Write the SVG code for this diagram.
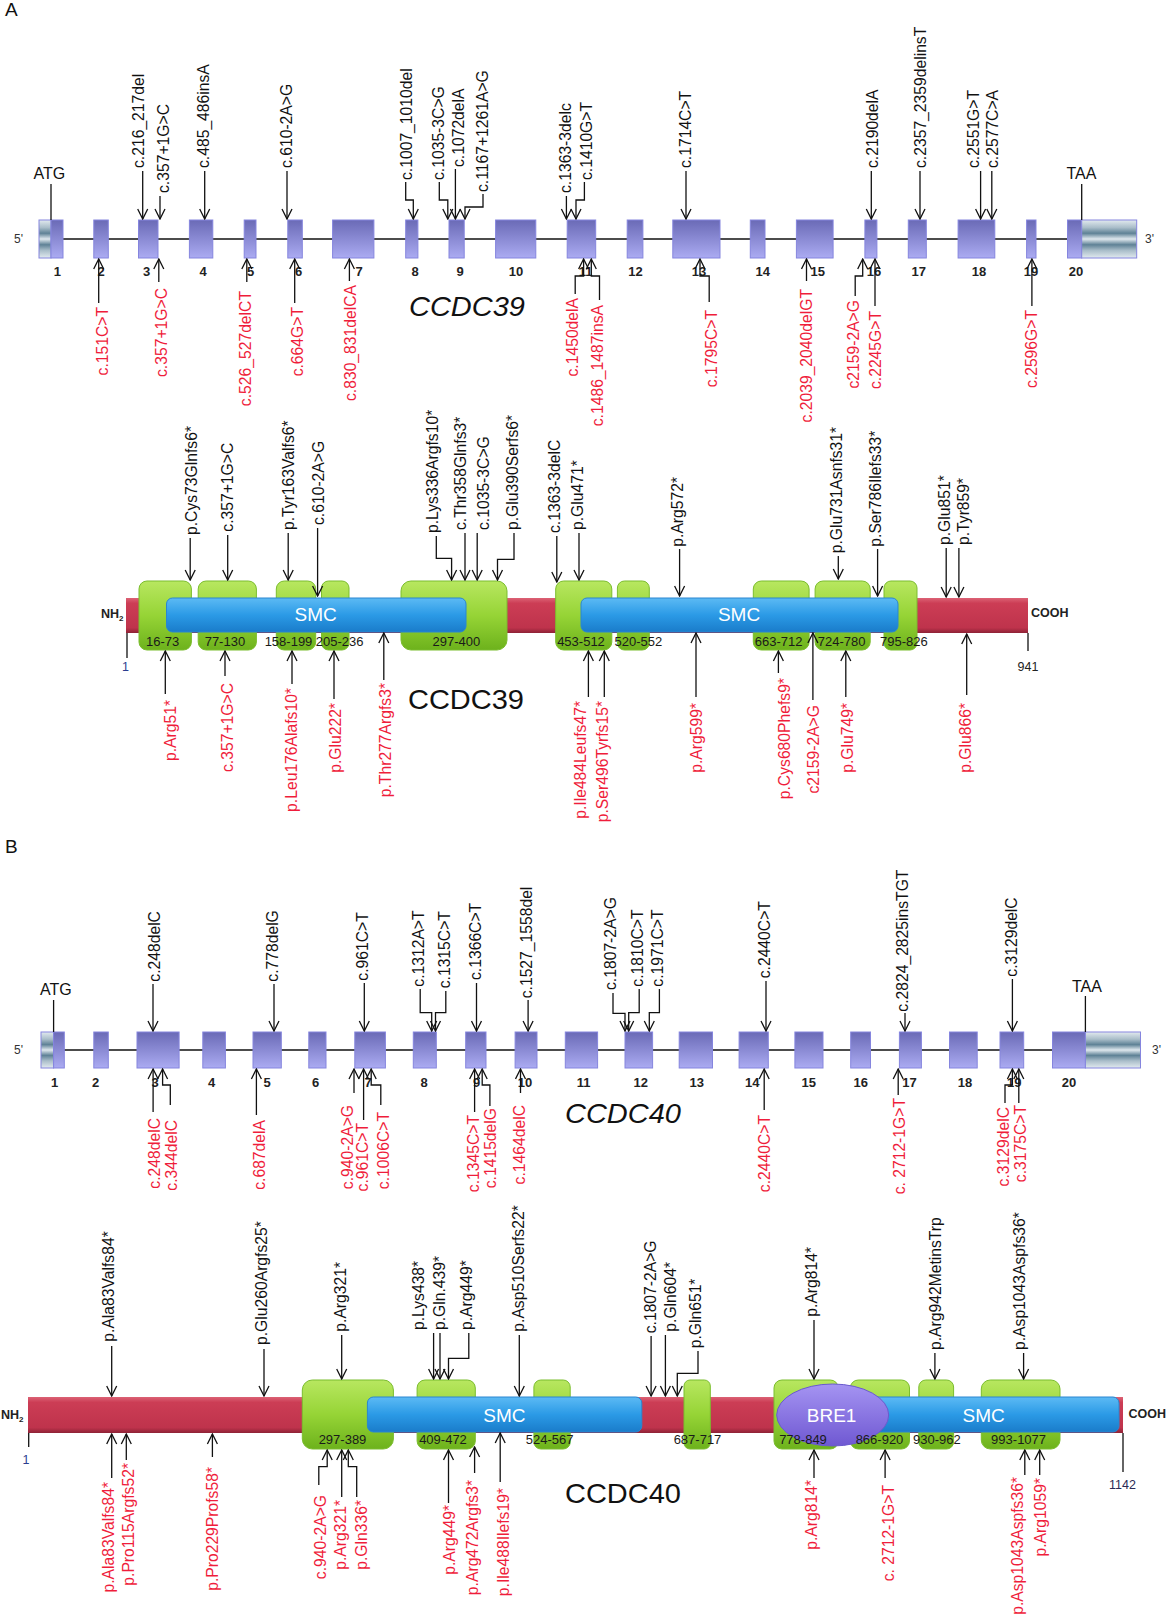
<svg xmlns="http://www.w3.org/2000/svg" width="1167" height="1617" viewBox="0 0 1167 1617">
<defs>
<linearGradient id="gExon" x1="0" y1="0" x2="0" y2="1"><stop offset="0" stop-color="#6a6ab6"/><stop offset="1" stop-color="#ababf2"/></linearGradient>
<linearGradient id="gUtr" x1="0" y1="0" x2="0" y2="1"><stop offset="0" stop-color="#e2eaef"/><stop offset="0.2" stop-color="#a9bdc9"/><stop offset="0.35" stop-color="#5f8296"/><stop offset="0.5" stop-color="#dfe8ee"/><stop offset="0.65" stop-color="#5f8296"/><stop offset="0.8" stop-color="#a9bdc9"/><stop offset="1" stop-color="#e2eaef"/></linearGradient>
<linearGradient id="gRed" x1="0" y1="0" x2="0" y2="1"><stop offset="0" stop-color="#dc6275"/><stop offset="0.15" stop-color="#cc3d55"/><stop offset="0.85" stop-color="#bf334c"/><stop offset="1" stop-color="#8e2236"/></linearGradient>
<linearGradient id="gGreen" x1="0" y1="0" x2="0" y2="1"><stop offset="0" stop-color="#b8e760"/><stop offset="0.5" stop-color="#96d436"/><stop offset="1" stop-color="#6db21c"/></linearGradient>
<linearGradient id="gBlue" x1="0" y1="0" x2="0" y2="1"><stop offset="0" stop-color="#5cbaf4"/><stop offset="0.5" stop-color="#2b9ae6"/><stop offset="1" stop-color="#1a7cca"/></linearGradient>
<linearGradient id="gBre" x1="0" y1="0" x2="0" y2="1"><stop offset="0" stop-color="#a594f2"/><stop offset="1" stop-color="#6f58d2"/></linearGradient>
<marker id="ah" viewBox="-11 -6 12 12" refX="0" refY="0" markerWidth="12" markerHeight="12" markerUnits="userSpaceOnUse" orient="auto"><path d="M-10,-5 L0,0 L-10,5" fill="none" stroke="#111" stroke-width="1.3"/></marker>
</defs>
<style>
text{font-family:"Liberation Sans",Arial,sans-serif}
.lb{font-size:15.7px;fill:#111}
.rd{font-size:15.7px;fill:#ef1d3b;text-anchor:end}
.num{font-size:13px;font-weight:bold;fill:#222;text-anchor:middle}
.exon{fill:url(#gExon);stroke:#8585de;stroke-width:1}
.utr{fill:url(#gUtr);stroke:#8585de;stroke-width:1}
.bb{fill:url(#gRed)}
.dom{fill:url(#gGreen);stroke:#7bbd2e;stroke-width:1}
.smc{fill:url(#gBlue);stroke:#2a86d0;stroke-width:1}
.dl{font-size:13px;fill:#1a1a1a;text-anchor:middle}
.wt{font-size:19px;fill:#fff;text-anchor:middle}
.end{font-size:12.5px;font-weight:bold;fill:#222}
.pos{font-size:12.5px;fill:#2a2a55;text-anchor:middle}
.title{font-size:28px;fill:#111}
.prime{font-size:12px;fill:#333}
.conn polyline,.conn line{fill:none;stroke:#111;stroke-width:1.3}
.conn polyline{marker-end:url(#ah)}
.gl{stroke:#111;stroke-width:1.4}
</style>
<rect width="1167" height="1617" fill="#fff"/>

<!-- Panel labels -->
<g id="panel-A-label"><text x="5" y="16" style="font-size:19px;fill:#111">A</text></g>
<g id="panel-B-label"><text x="5" y="853" style="font-size:19px;fill:#111">B</text></g>

<!-- ===== Panel A gene ===== -->
<g id="a-gene">
<line class="gl" x1="55" y1="239" x2="1070" y2="239"/>
<g id="a-exon-1"><rect class="utr" x="39" y="220" width="12" height="38"/><rect class="exon" x="51" y="220" width="12" height="38"/></g>
<g id="a-exon-2"><rect class="exon" x="93.8" y="220" width="14.5" height="38"/></g>
<g id="a-exon-3"><rect class="exon" x="138.5" y="220" width="19.5" height="38"/></g>
<g id="a-exon-4"><rect class="exon" x="189.4" y="220" width="23.4" height="38"/></g>
<g id="a-exon-5"><rect class="exon" x="244.2" y="220" width="11.8" height="38"/></g>
<g id="a-exon-6"><rect class="exon" x="287.8" y="220" width="14.5" height="38"/></g>
<g id="a-exon-7"><rect class="exon" x="332.6" y="220" width="41.3" height="38"/></g>
<g id="a-exon-8"><rect class="exon" x="405.7" y="220" width="12.2" height="38"/></g>
<g id="a-exon-9"><rect class="exon" x="449" y="220" width="15.2" height="38"/></g>
<g id="a-exon-10"><rect class="exon" x="495.6" y="220" width="40.2" height="38"/></g>
<g id="a-exon-11"><rect class="exon" x="567.2" y="220" width="28.5" height="38"/></g>
<g id="a-exon-12"><rect class="exon" x="627.2" y="220" width="15.7" height="38"/></g>
<g id="a-exon-13"><rect class="exon" x="672.8" y="220" width="47.2" height="38"/></g>
<g id="a-exon-14"><rect class="exon" x="750.3" y="220" width="14.7" height="38"/></g>
<g id="a-exon-15"><rect class="exon" x="796.4" y="220" width="36.7" height="38"/></g>
<g id="a-exon-16"><rect class="exon" x="864.9" y="220" width="12" height="38"/></g>
<g id="a-exon-17"><rect class="exon" x="908.3" y="220" width="18" height="38"/></g>
<g id="a-exon-18"><rect class="exon" x="958.1" y="220" width="36.7" height="38"/></g>
<g id="a-exon-19"><rect class="exon" x="1026.6" y="220" width="9.4" height="38"/></g>
<g id="a-exon-20"><rect class="exon" x="1067.5" y="220" width="14.2" height="38"/><rect class="utr" x="1081.7" y="220" width="55" height="38"/></g>
<g id="a-exon-numbers">
<text class="num" x="57.4" y="276">1</text><text class="num" x="101" y="276">2</text><text class="num" x="146.6" y="276">3</text><text class="num" x="203" y="276">4</text><text class="num" x="250.7" y="276">5</text><text class="num" x="298.5" y="276">6</text><text class="num" x="359" y="276">7</text><text class="num" x="415" y="276">8</text><text class="num" x="460" y="276">9</text><text class="num" x="516" y="276">10</text><text class="num" x="585.5" y="276">11</text><text class="num" x="635.4" y="276">12</text><text class="num" x="699" y="276">13</text><text class="num" x="762.7" y="276">14</text><text class="num" x="817.7" y="276">15</text><text class="num" x="874" y="276">16</text><text class="num" x="918.8" y="276">17</text><text class="num" x="979" y="276">18</text><text class="num" x="1031" y="276">19</text><text class="num" x="1076" y="276">20</text>
</g>
<g id="a-5prime"><text class="prime" x="14" y="243">5'</text></g>
<g id="a-3prime"><text class="prime" x="1145" y="243">3'</text></g>
<g id="a-atg"><text x="33.5" y="179" style="font-size:16px;fill:#111">ATG</text></g>
<g id="a-taa"><text x="1066.5" y="179" style="font-size:16px;fill:#111">TAA</text></g>
<g id="a-gene-title"><text class="title" x="409" y="316" font-style="italic" textLength="116" lengthAdjust="spacingAndGlyphs">CCDC39</text></g>
</g>

<g id="a-gene-labels">
<g id="ag-t1"><text class="lb" transform="translate(144,168) rotate(-90)">c.216_217del</text></g>
<g id="ag-t2"><text class="lb" transform="translate(169,193) rotate(-90)">c.357+1G&gt;C</text></g>
<g id="ag-t3"><text class="lb" transform="translate(208.5,168) rotate(-90)">c.485_486insA</text></g>
<g id="ag-t4"><text class="lb" transform="translate(291.5,168) rotate(-90)">c.610-2A&gt;G</text></g>
<g id="ag-t5"><text class="lb" transform="translate(412,180) rotate(-90)">c.1007_1010del</text></g>
<g id="ag-t6"><text class="lb" transform="translate(443.5,180) rotate(-90)">c.1035-3C&gt;G</text></g>
<g id="ag-t7"><text class="lb" transform="translate(464,167) rotate(-90)">c.1072delA</text></g>
<g id="ag-t8"><text class="lb" transform="translate(488,192) rotate(-90)">c.1167+1261A&gt;G</text></g>
<g id="ag-t9"><text class="lb" transform="translate(571,193) rotate(-90)">c.1363-3delc</text></g>
<g id="ag-t10"><text class="lb" transform="translate(592,180) rotate(-90)">c.1410G&gt;T</text></g>
<g id="ag-t11"><text class="lb" transform="translate(691,168) rotate(-90)">c.1714C&gt;T</text></g>
<g id="ag-t12"><text class="lb" transform="translate(878,168) rotate(-90)">c.2190delA</text></g>
<g id="ag-t13"><text class="lb" transform="translate(926,168) rotate(-90)">c.2357_2359delinsT</text></g>
<g id="ag-t14"><text class="lb" transform="translate(978.5,168) rotate(-90)">c.2551G&gt;T</text></g>
<g id="ag-t15"><text class="lb" transform="translate(998,168) rotate(-90)">c.2577C&gt;A</text></g>
<g id="ag-b1"><text class="rd" transform="translate(108,307) rotate(-90)">c.151C&gt;T</text></g>
<g id="ag-b2"><text class="rd" transform="translate(167,288) rotate(-90)">c.357+1G&gt;C</text></g>
<g id="ag-b3"><text class="rd" transform="translate(251,291) rotate(-90)">c.526_527delCT</text></g>
<g id="ag-b4"><text class="rd" transform="translate(303,307) rotate(-90)">c.664G&gt;T</text></g>
<g id="ag-b5"><text class="rd" transform="translate(356,285) rotate(-90)">c.830_831delCA</text></g>
<g id="ag-b6"><text class="rd" transform="translate(578,298) rotate(-90)">c.1450delA</text></g>
<g id="ag-b7"><text class="rd" transform="translate(602.5,305) rotate(-90)">c.1486_1487insA</text></g>
<g id="ag-b8"><text class="rd" transform="translate(717,310) rotate(-90)">c.1795C&gt;T</text></g>
<g id="ag-b9"><text class="rd" transform="translate(812,289) rotate(-90)">c.2039_2040delGT</text></g>
<g id="ag-b10"><text class="rd" transform="translate(859,300) rotate(-90)">c2159-2A&gt;G</text></g>
<g id="ag-b11"><text class="rd" transform="translate(881,311) rotate(-90)">c.2245G&gt;T</text></g>
<g id="ag-b12"><text class="rd" transform="translate(1037,310) rotate(-90)">c.2596G&gt;T</text></g>
</g>

<!-- ===== Panel A protein ===== -->
<g id="a-protein">
<g id="a-backbone"><rect class="bb" x="126" y="598" width="902" height="35"/></g>
<g id="a-dom-16-73"><rect class="dom" x="139" y="581" width="52.4" height="69" rx="8"/></g>
<g id="a-dom-77-130"><rect class="dom" x="198.2" y="581" width="58.2" height="69" rx="8"/></g>
<g id="a-dom-158-199"><rect class="dom" x="276.3" y="581" width="39.4" height="69" rx="8"/></g>
<g id="a-dom-205-236"><rect class="dom" x="321.5" y="581" width="27.5" height="69" rx="7"/></g>
<g id="a-dom-297-400"><rect class="dom" x="401" y="581" width="106" height="69" rx="10"/></g>
<g id="a-dom-453-512"><rect class="dom" x="555.7" y="581" width="56.1" height="69" rx="8"/></g>
<g id="a-dom-520-552"><rect class="dom" x="617.4" y="581" width="31.9" height="69" rx="7"/></g>
<g id="a-dom-663-712"><rect class="dom" x="753.3" y="581" width="55.8" height="69" rx="8"/></g>
<g id="a-dom-724-780"><rect class="dom" x="815.1" y="581" width="55.1" height="69" rx="8"/></g>
<g id="a-dom-795-826"><rect class="dom" x="884" y="581" width="33" height="69" rx="7"/></g>
<g id="a-smc-1"><rect class="smc" x="166.5" y="598" width="299.5" height="34" rx="6"/><text class="wt" x="315.7" y="621">SMC</text></g>
<g id="a-smc-2"><rect class="smc" x="581" y="598" width="317" height="34" rx="6"/><text class="wt" x="739" y="621">SMC</text></g>
<g id="a-dom-labels">
<text class="dl" x="162.7" y="646">16-73</text><text class="dl" x="224.9" y="646">77-130</text><text class="dl" x="288.5" y="646">158-199</text><text class="dl" x="339.6" y="646">205-236</text><text class="dl" x="456.4" y="646">297-400</text><text class="dl" x="581" y="646">453-512</text><text class="dl" x="638.4" y="646">520-552</text><text class="dl" x="778.6" y="646">663-712</text><text class="dl" x="841.7" y="646">724-780</text><text class="dl" x="903.9" y="646">795-826</text>
</g>
<g id="a-nh2"><text class="end" x="101" y="618">NH<tspan style="font-size:8px" dy="3">2</tspan></text></g>
<g id="a-cooh"><text class="end" x="1031" y="617">COOH</text></g>
<g id="a-pos-1"><text class="pos" x="125.5" y="671" style="fill:#2b3d8f">1</text></g>
<g id="a-pos-941"><text class="pos" x="1028" y="671" style="fill:#222">941</text></g>
<g id="a-protein-title"><text class="title" x="408" y="709" textLength="116" lengthAdjust="spacingAndGlyphs">CCDC39</text></g>
</g>

<g id="a-protein-labels">
<g id="ap-t1"><text class="lb" transform="translate(196.5,535) rotate(-90)">p.Cys73Glnfs6*</text></g>
<g id="ap-t2"><text class="lb" transform="translate(232.5,531.7) rotate(-90)">c.357+1G&gt;C</text></g>
<g id="ap-t3"><text class="lb" transform="translate(294,530) rotate(-90)">p.Tyr163Valfs6*</text></g>
<g id="ap-t4"><text class="lb" transform="translate(324,525) rotate(-90)">c.610-2A&gt;G</text></g>
<g id="ap-t5"><text class="lb" transform="translate(437.5,533) rotate(-90)">p.Lys336Argfs10*</text></g>
<g id="ap-t6"><text class="lb" transform="translate(465.5,530) rotate(-90)">c.Thr358Glnfs3*</text></g>
<g id="ap-t7"><text class="lb" transform="translate(489,530) rotate(-90)">c.1035-3C&gt;G</text></g>
<g id="ap-t8"><text class="lb" transform="translate(518,530) rotate(-90)">p.Glu390Serfs6*</text></g>
<g id="ap-t9"><text class="lb" transform="translate(559.5,533) rotate(-90)">c.1363-3delC</text></g>
<g id="ap-t10"><text class="lb" transform="translate(583,530) rotate(-90)">p.Glu471*</text></g>
<g id="ap-t11"><text class="lb" transform="translate(682.5,546.7) rotate(-90)">p.Arg572*</text></g>
<g id="ap-t12"><text class="lb" transform="translate(841.5,553.3) rotate(-90)">p.Glu731Asnfs31*</text></g>
<g id="ap-t13"><text class="lb" transform="translate(881,546.7) rotate(-90)">p.Ser786Ilefs33*</text></g>
<g id="ap-t14"><text class="lb" transform="translate(950,545) rotate(-90)">p.Glu851*</text></g>
<g id="ap-t15"><text class="lb" transform="translate(968.5,545) rotate(-90)">p.Tyr859*</text></g>
<g id="ap-b1"><text class="rd" transform="translate(176,700) rotate(-90)">p.Arg51*</text></g>
<g id="ap-b2"><text class="rd" transform="translate(232.5,683) rotate(-90)">c.357+1G&gt;C</text></g>
<g id="ap-b3"><text class="rd" transform="translate(296.5,688) rotate(-90)">p.Leu176Alafs10*</text></g>
<g id="ap-b4"><text class="rd" transform="translate(340.5,703) rotate(-90)">p.Glu222*</text></g>
<g id="ap-b5"><text class="rd" transform="translate(390.5,683) rotate(-90)">p.Thr277Argfs3*</text></g>
<g id="ap-b6"><text class="rd" transform="translate(586,701) rotate(-90)">p.Ile484Leufs47*</text></g>
<g id="ap-b7"><text class="rd" transform="translate(608,701) rotate(-90)">p.Ser496Tyrfs15*</text></g>
<g id="ap-b8"><text class="rd" transform="translate(701.5,703) rotate(-90)">p.Arg599*</text></g>
<g id="ap-b9"><text class="rd" transform="translate(789.5,678) rotate(-90)">p.Cys680Phefs9*</text></g>
<g id="ap-b10"><text class="rd" transform="translate(818.5,705) rotate(-90)">c2159-2A&gt;G</text></g>
<g id="ap-b11"><text class="rd" transform="translate(853,703) rotate(-90)">p.Glu749*</text></g>
<g id="ap-b12"><text class="rd" transform="translate(971,703) rotate(-90)">p.Glu866*</text></g>
</g>

<!-- ===== Panel B gene ===== -->
<g id="b-gene">
<line class="gl" x1="58" y1="1050" x2="1055" y2="1050"/>
<g id="b-exon-1"><rect class="utr" x="41" y="1032" width="12.6" height="36"/><rect class="exon" x="53.6" y="1032" width="10.7" height="36"/></g>
<g id="b-exon-2"><rect class="exon" x="93.8" y="1032" width="14.5" height="36"/></g>
<g id="b-exon-3"><rect class="exon" x="137" y="1032" width="42.1" height="36"/></g>
<g id="b-exon-4"><rect class="exon" x="202.8" y="1032" width="22.6" height="36"/></g>
<g id="b-exon-5"><rect class="exon" x="253" y="1032" width="28.3" height="36"/></g>
<g id="b-exon-6"><rect class="exon" x="308.8" y="1032" width="17.2" height="36"/></g>
<g id="b-exon-7"><rect class="exon" x="354.8" y="1032" width="30.6" height="36"/></g>
<g id="b-exon-8"><rect class="exon" x="413.3" y="1032" width="23" height="36"/></g>
<g id="b-exon-9"><rect class="exon" x="465.7" y="1032" width="20.3" height="36"/></g>
<g id="b-exon-10"><rect class="exon" x="515.1" y="1032" width="21.9" height="36"/></g>
<g id="b-exon-11"><rect class="exon" x="565.3" y="1032" width="32.3" height="36"/></g>
<g id="b-exon-12"><rect class="exon" x="625" y="1032" width="27.6" height="36"/></g>
<g id="b-exon-13"><rect class="exon" x="679.2" y="1032" width="33.3" height="36"/></g>
<g id="b-exon-14"><rect class="exon" x="739.1" y="1032" width="29.2" height="36"/></g>
<g id="b-exon-15"><rect class="exon" x="794.9" y="1032" width="28.1" height="36"/></g>
<g id="b-exon-16"><rect class="exon" x="850.7" y="1032" width="19.8" height="36"/></g>
<g id="b-exon-17"><rect class="exon" x="899.4" y="1032" width="22" height="36"/></g>
<g id="b-exon-18"><rect class="exon" x="949.5" y="1032" width="27.7" height="36"/></g>
<g id="b-exon-19"><rect class="exon" x="1000" y="1032" width="23.7" height="36"/></g>
<g id="b-exon-20"><rect class="exon" x="1052.5" y="1032" width="32.9" height="36"/><rect class="utr" x="1085.4" y="1032" width="55.1" height="36"/></g>
<g id="b-exon-numbers">
<text class="num" x="54.7" y="1087">1</text><text class="num" x="95.7" y="1087">2</text><text class="num" x="155" y="1087">3</text><text class="num" x="211.6" y="1087">4</text><text class="num" x="267" y="1087">5</text><text class="num" x="315.7" y="1087">6</text><text class="num" x="368" y="1087">7</text><text class="num" x="424" y="1087">8</text><text class="num" x="476.5" y="1087">9</text><text class="num" x="525" y="1087">10</text><text class="num" x="583.6" y="1087">11</text><text class="num" x="640.7" y="1087">12</text><text class="num" x="696.8" y="1087">13</text><text class="num" x="752.2" y="1087">14</text><text class="num" x="808.8" y="1087">15</text><text class="num" x="860.8" y="1087">16</text><text class="num" x="909.5" y="1087">17</text><text class="num" x="964.9" y="1087">18</text><text class="num" x="1014.3" y="1087">19</text><text class="num" x="1069" y="1087">20</text>
</g>
<g id="b-5prime"><text class="prime" x="14" y="1054">5'</text></g>
<g id="b-3prime"><text class="prime" x="1152" y="1054">3'</text></g>
<g id="b-atg"><text x="40" y="995" style="font-size:16px;fill:#111">ATG</text></g>
<g id="b-taa"><text x="1072" y="992" style="font-size:16px;fill:#111">TAA</text></g>
<g id="b-gene-title"><text class="title" x="565" y="1123" font-style="italic" textLength="116" lengthAdjust="spacingAndGlyphs">CCDC40</text></g>
</g>

<g id="b-gene-labels">
<g id="bg-t1"><text class="lb" transform="translate(159.5,981.7) rotate(-90)">c.248delC</text></g>
<g id="bg-t2"><text class="lb" transform="translate(278,981.7) rotate(-90)">c.778delG</text></g>
<g id="bg-t3"><text class="lb" transform="translate(368,980.7) rotate(-90)">c.961C&gt;T</text></g>
<g id="bg-t4"><text class="lb" transform="translate(423.5,986.7) rotate(-90)">c.1312A&gt;T</text></g>
<g id="bg-t5"><text class="lb" transform="translate(449.5,988.3) rotate(-90)">c.1315C&gt;T</text></g>
<g id="bg-t6"><text class="lb" transform="translate(481,980) rotate(-90)">c.1366C&gt;T</text></g>
<g id="bg-t7"><text class="lb" transform="translate(532,998.3) rotate(-90)">c.1527_1558del</text></g>
<g id="bg-t8"><text class="lb" transform="translate(616,990) rotate(-90)">c.1807-2A&gt;G</text></g>
<g id="bg-t9"><text class="lb" transform="translate(642.5,986.7) rotate(-90)">c.1810C&gt;T</text></g>
<g id="bg-t10"><text class="lb" transform="translate(663,986.7) rotate(-90)">c.1971C&gt;T</text></g>
<g id="bg-t11"><text class="lb" transform="translate(770,978.3) rotate(-90)">c.2440C&gt;T</text></g>
<g id="bg-t12"><text class="lb" transform="translate(907.5,1011.7) rotate(-90)">c.2824_2825insTGT</text></g>
<g id="bg-t13"><text class="lb" transform="translate(1017,976.7) rotate(-90)">c.3129delC</text></g>
<g id="bg-b1"><text class="rd" transform="translate(159.5,1118) rotate(-90)">c.248delC</text></g>
<g id="bg-b2"><text class="rd" transform="translate(177,1120) rotate(-90)">c.344delC</text></g>
<g id="bg-b3"><text class="rd" transform="translate(265,1120) rotate(-90)">c.687delA</text></g>
<g id="bg-b4"><text class="rd" transform="translate(352.5,1105) rotate(-90)">c.940-2A&gt;G</text></g>
<g id="bg-b5"><text class="rd" transform="translate(368,1123) rotate(-90)">c.961C&gt;T</text></g>
<g id="bg-b6"><text class="rd" transform="translate(389,1112) rotate(-90)">c.1006C&gt;T</text></g>
<g id="bg-b7"><text class="rd" transform="translate(479,1115) rotate(-90)">c.1345C&gt;T</text></g>
<g id="bg-b8"><text class="rd" transform="translate(496,1108) rotate(-90)">c.1415delG</text></g>
<g id="bg-b9"><text class="rd" transform="translate(525,1105) rotate(-90)">c.1464delC</text></g>
<g id="bg-b10"><text class="rd" transform="translate(770,1115) rotate(-90)">c.2440C&gt;T</text></g>
<g id="bg-b11"><text class="rd" transform="translate(904.5,1098) rotate(-90)">c. 2712-1G&gt;T</text></g>
<g id="bg-b12"><text class="rd" transform="translate(1009,1107) rotate(-90)">c.3129delC</text></g>
<g id="bg-b13"><text class="rd" transform="translate(1026,1105) rotate(-90)">c.3175C&gt;T</text></g>
</g>

<!-- ===== Panel B protein ===== -->
<g id="b-protein">
<g id="b-backbone"><rect class="bb" x="28" y="1397" width="1095" height="36"/></g>
<g id="b-dom-297-389"><rect class="dom" x="302.3" y="1380" width="91.1" height="69" rx="10"/></g>
<g id="b-dom-409-472"><rect class="dom" x="417.1" y="1380" width="58.2" height="69" rx="8"/></g>
<g id="b-dom-524-567"><rect class="dom" x="533.9" y="1380" width="36.3" height="69" rx="7"/></g>
<g id="b-dom-687-717"><rect class="dom" x="684" y="1380" width="26.3" height="69" rx="6"/></g>
<g id="b-dom-778-849"><rect class="dom" x="774" y="1380" width="64.3" height="69" rx="8"/></g>
<g id="b-dom-866-920"><rect class="dom" x="850.3" y="1380" width="59.2" height="69" rx="8"/></g>
<g id="b-dom-930-962"><rect class="dom" x="918.8" y="1380" width="34.8" height="69" rx="7"/></g>
<g id="b-dom-993-1077"><rect class="dom" x="981.3" y="1380" width="78.7" height="69" rx="9"/></g>
<g id="b-smc-1"><rect class="smc" x="367.4" y="1397" width="274.4" height="35" rx="6"/><text class="wt" x="504.4" y="1422">SMC</text></g>
<g id="b-smc-2"><rect class="smc" x="850" y="1397" width="269" height="35" rx="6"/><text class="wt" x="983.6" y="1422">SMC</text></g>
<g id="b-bre1"><ellipse cx="832.7" cy="1415" rx="56" ry="31" fill="url(#gBre)" stroke="#6a5acd" stroke-width="1"/><text class="wt" x="831.6" y="1422">BRE1</text></g>
<g id="b-dom-labels">
<text class="dl" x="342.5" y="1444">297-389</text><text class="dl" x="443" y="1444">409-472</text><text class="dl" x="549.7" y="1444">524-567</text><text class="dl" x="697.5" y="1444">687-717</text><text class="dl" x="803" y="1444">778-849</text><text class="dl" x="879.5" y="1444">866-920</text><text class="dl" x="936.8" y="1444">930-962</text><text class="dl" x="1018.6" y="1444">993-1077</text>
</g>
<g id="b-nh2"><text class="end" x="1" y="1419">NH<tspan style="font-size:8px" dy="3">2</tspan></text></g>
<g id="b-cooh"><text class="end" x="1128.5" y="1418">COOH</text></g>
<g id="b-pos-1"><text class="pos" x="26" y="1464" style="fill:#2b3d8f">1</text></g>
<g id="b-pos-1142"><text class="pos" x="1122.5" y="1489">1142</text></g>
<g id="b-protein-title"><text class="title" x="565" y="1503" textLength="116" lengthAdjust="spacingAndGlyphs">CCDC40</text></g>
</g>

<g id="b-protein-labels">
<g id="bp-t1"><text class="lb" transform="translate(114,1341.7) rotate(-90)">p.Ala83Valfs84*</text></g>
<g id="bp-t2"><text class="lb" transform="translate(267,1345) rotate(-90)">p.Glu260Argfs25*</text></g>
<g id="bp-t3"><text class="lb" transform="translate(345.5,1331.7) rotate(-90)">p.Arg321*</text></g>
<g id="bp-t4"><text class="lb" transform="translate(424,1330) rotate(-90)">p.Lys438*</text></g>
<g id="bp-t5"><text class="lb" transform="translate(445,1330) rotate(-90)">p.Gln.439*</text></g>
<g id="bp-t6"><text class="lb" transform="translate(472,1330) rotate(-90)">p.Arg449*</text></g>
<g id="bp-t7"><text class="lb" transform="translate(523.5,1331.7) rotate(-90)">p.Asp510Serfs22*</text></g>
<g id="bp-t8"><text class="lb" transform="translate(655.5,1333.3) rotate(-90)">c.1807-2A&gt;G</text></g>
<g id="bp-t9"><text class="lb" transform="translate(675.5,1331.7) rotate(-90)">p.Gln604*</text></g>
<g id="bp-t10"><text class="lb" transform="translate(701,1348.3) rotate(-90)">p.Gln651*</text></g>
<g id="bp-t11"><text class="lb" transform="translate(817,1316.7) rotate(-90)">p.Arg814*</text></g>
<g id="bp-t12"><text class="lb" transform="translate(940.5,1350) rotate(-90)">p.Arg942MetinsTrp</text></g>
<g id="bp-t13"><text class="lb" transform="translate(1025,1350) rotate(-90)">p.Asp1043Aspfs36*</text></g>
<g id="bp-b1"><text class="rd" transform="translate(114,1482) rotate(-90)">p.Ala83Valfs84*</text></g>
<g id="bp-b2"><text class="rd" transform="translate(133.5,1463) rotate(-90)">p.Pro115Argfs52*</text></g>
<g id="bp-b3"><text class="rd" transform="translate(217.5,1467) rotate(-90)">p.Pro229Profs58*</text></g>
<g id="bp-b4"><text class="rd" transform="translate(325.5,1495) rotate(-90)">c.940-2A&gt;G</text></g>
<g id="bp-b5"><text class="rd" transform="translate(346,1500) rotate(-90)">p.Arg321*</text></g>
<g id="bp-b6"><text class="rd" transform="translate(367,1500) rotate(-90)">p.Gln336*</text></g>
<g id="bp-b7"><text class="rd" transform="translate(455,1505) rotate(-90)">p.Arg449*</text></g>
<g id="bp-b8"><text class="rd" transform="translate(478,1480) rotate(-90)">p.Arg472Argfs3*</text></g>
<g id="bp-b9"><text class="rd" transform="translate(508.5,1488) rotate(-90)">p.Ile488Ilefs19*</text></g>
<g id="bp-b10"><text class="rd" transform="translate(817,1480) rotate(-90)">p.Arg814*</text></g>
<g id="bp-b11"><text class="rd" transform="translate(894,1485) rotate(-90)">c. 2712-1G&gt;T</text></g>
<g id="bp-b12"><text class="rd" transform="translate(1023,1477) rotate(-90)">p.Asp1043Aspfs36*</text></g>
<g id="bp-b13"><text class="rd" transform="translate(1045.5,1478) rotate(-90)">p.Arg1059*</text></g>
</g>

<!-- ===== Connectors ===== -->
<g id="connectors" class="conn">
<line x1="51" y1="184" x2="51" y2="220"/>
<line x1="1081.7" y1="184" x2="1081.7" y2="220"/>
<polyline points="142.7,171 142.7,219"/>
<polyline points="160,196 160,219"/>
<polyline points="204.7,171 204.7,219"/>
<polyline points="287,171 287,219"/>
<polyline points="405.7,182 405.7,200 413.3,200 413.3,219"/>
<polyline points="439.3,182 439.3,200 447.8,200 447.8,219"/>
<polyline points="455.4,169 455.4,219"/>
<polyline points="483,194 483,207 465,207 465,219"/>
<polyline points="566.4,196 566.4,219"/>
<polyline points="584.4,182 584.4,200 576,200 576,219"/>
<polyline points="686,171 686,219"/>
<polyline points="871.3,171 871.3,219"/>
<polyline points="920,171 920,219"/>
<polyline points="980.6,171 980.6,219"/>
<polyline points="991.8,171 991.8,219"/>
<polyline points="98.7,303 98.7,259"/>
<polyline points="158.8,282 158.8,259"/>
<polyline points="246.8,282 246.8,259"/>
<polyline points="294.7,303 294.7,259"/>
<polyline points="349.4,281 349.4,259"/>
<polyline points="575.2,294 575.2,276 583.6,276 583.6,259"/>
<polyline points="599.5,300 599.5,276 591.3,276 591.3,259"/>
<polyline points="709.2,302 709.2,276 700,276 700,259"/>
<polyline points="806.5,281 806.5,259"/>
<polyline points="855.2,296 855.2,276 862.7,276 862.7,259"/>
<polyline points="875,306 875,259"/>
<polyline points="1031.9,306 1031.9,259"/>

<line x1="127" y1="633" x2="127" y2="658"/>
<line x1="1028" y1="633" x2="1028" y2="651"/>
<polyline points="190.2,538 190.2,580"/>
<polyline points="227.7,535 227.7,580"/>
<polyline points="288.2,533 288.2,580"/>
<polyline points="317.6,528 317.6,596"/>
<polyline points="436.3,536 436.3,558.3 451.6,558.3 451.6,580"/>
<polyline points="465,533 465,580"/>
<polyline points="477.2,533 477.2,580"/>
<polyline points="514,533 514,559.3 497.5,559.3 497.5,580"/>
<polyline points="556.8,536 556.8,582"/>
<polyline points="579,533 579,580"/>
<polyline points="679.6,549 679.6,596"/>
<polyline points="838.3,556 838.3,579"/>
<polyline points="877.6,549 877.6,596"/>
<polyline points="946.2,548 946.2,597"/>
<polyline points="958.9,548 958.9,597"/>
<polyline points="165.3,694 165.3,651"/>
<polyline points="225,676 225,651"/>
<polyline points="292,684 292,651"/>
<polyline points="334,699 334,651"/>
<polyline points="383.8,680 383.8,633"/>
<polyline points="588.4,697 588.4,651"/>
<polyline points="604.3,697 604.3,651"/>
<polyline points="696,697 696,633"/>
<polyline points="778.4,673 778.4,651"/>
<polyline points="812.9,700 812.9,633"/>
<polyline points="845.8,697 845.8,651"/>
<polyline points="966.7,695 966.7,634"/>

<line x1="53.6" y1="1000" x2="53.6" y2="1032"/>
<line x1="1085.4" y1="996" x2="1085.4" y2="1032"/>
<polyline points="153,984 153,1031"/>
<polyline points="274,984 274,1031"/>
<polyline points="364.3,983 364.3,1031"/>
<polyline points="420.2,989 420.2,1012.7 431.7,1012.7 431.7,1031"/>
<polyline points="445.8,991 445.8,1012.7 435.5,1012.7 435.5,1031"/>
<polyline points="476.5,983 476.5,1031"/>
<polyline points="528.1,1000 528.1,1031"/>
<polyline points="613,993 613,1013.3 625,1013.3 625,1031"/>
<polyline points="639.2,989 639.2,1012.7 628.7,1012.7 628.7,1031"/>
<polyline points="659.4,989 659.4,1012.7 649.3,1012.7 649.3,1031"/>
<polyline points="766,981 766,1031"/>
<polyline points="905,1013 905,1031"/>
<polyline points="1012.4,979 1012.4,1031"/>
<polyline points="153.1,1112 153.1,1069"/>
<polyline points="170.3,1105 170.3,1085 162.6,1085 162.6,1069"/>
<polyline points="256.4,1115 256.4,1069"/>
<polyline points="354,1093 354,1069"/>
<polyline points="363.6,1120 363.6,1069"/>
<polyline points="380.8,1105 380.8,1085 371.2,1085 371.2,1069"/>
<polyline points="474.6,1112 474.6,1069"/>
<polyline points="489.9,1106 489.9,1085 482.2,1085 482.2,1069"/>
<polyline points="520.5,1093 520.5,1069"/>
<polyline points="764.2,1110 764.2,1069"/>
<polyline points="898.2,1095 898.2,1069"/>
<polyline points="1005,1103 1005,1085 1012.4,1085 1012.4,1069"/>
<polyline points="1018.8,1103 1018.8,1069"/>

<line x1="28.7" y1="1433" x2="28.7" y2="1447"/>
<line x1="1123" y1="1433" x2="1123" y2="1472"/>
<polyline points="111.7,1346 111.7,1396"/>
<polyline points="264,1349 264,1396"/>
<polyline points="341.7,1335 341.7,1379"/>
<polyline points="433.6,1333 433.6,1379"/>
<polyline points="440,1333 440,1379"/>
<polyline points="468.8,1333 468.8,1358.3 448.5,1358.3 448.5,1379"/>
<polyline points="519.3,1335 519.3,1396"/>
<polyline points="651.1,1336 651.1,1396"/>
<polyline points="665.4,1335 665.4,1396"/>
<polyline points="698,1351 698,1373.3 677.3,1373.3 677.3,1396"/>
<polyline points="814,1320 814,1379"/>
<polyline points="934.9,1353 934.9,1379"/>
<polyline points="1023.6,1353 1023.6,1379"/>
<polyline points="111.7,1478 111.7,1434"/>
<polyline points="126.3,1460 126.3,1434"/>
<polyline points="212.4,1457 212.4,1434"/>
<polyline points="318.8,1485 318.8,1466.7 327.2,1466.7 327.2,1450"/>
<polyline points="341.7,1497 341.7,1450"/>
<polyline points="356.7,1497 356.7,1466.7 348.3,1466.7 348.3,1450"/>
<polyline points="448.5,1503 448.5,1450"/>
<polyline points="474.6,1473 474.6,1447"/>
<polyline points="500.2,1482 500.2,1433"/>
<polyline points="814,1478 814,1450"/>
<polyline points="885.1,1478 885.1,1450"/>
<polyline points="1024.8,1475 1024.8,1450"/>
<polyline points="1039.7,1475 1039.7,1450"/>
</g>
</svg>
